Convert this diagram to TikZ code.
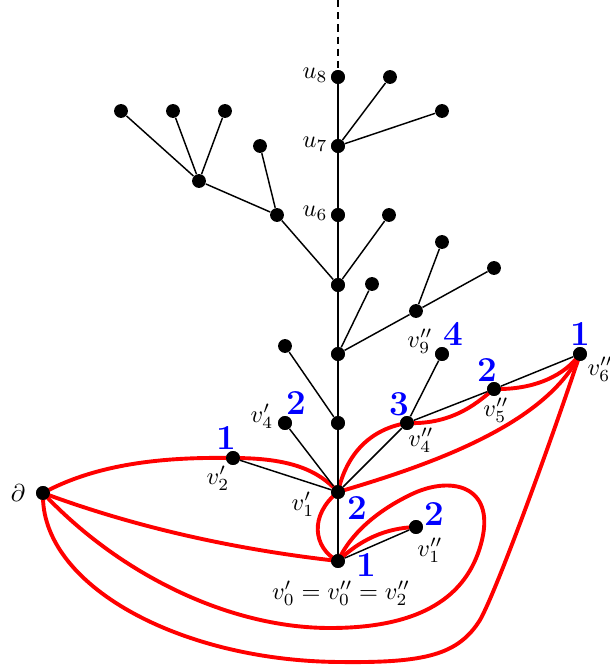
\documentclass[tikz,border=0pt]{standalone}
\begin{document}
\begin{tikzpicture}[x=0.01443cm,y=-0.01443cm,
  dot/.style={circle,fill=black,inner sep=0pt,minimum size=2mm},
  tedge/.style={black,semithick},
  redge/.style={red,line width=1.6pt},
  lab/.style={inner sep=0pt},
  num/.style={text=blue,font=\Large\bfseries,inner sep=0pt}]
\useasboundingbox (0,0) rectangle (610,671);
% tree vertices
\node[dot] (u8) at (338,77) {};
\node[dot] (a1) at (390,77) {};
\node[dot] (u7) at (338,146) {};
\node[dot] (a2) at (442,111) {};
\node[dot] (u6) at (338,215) {};
\node[dot] (a3) at (389,215) {};
\node[dot] (A) at (338,285) {};
\node[dot] (L1) at (277,215) {};
\node[dot] (L2) at (260,146) {};
\node[dot] (L3) at (199,181) {};
\node[dot] (L4) at (121,111) {};
\node[dot] (L5) at (173,111) {};
\node[dot] (L6) at (225,111) {};
\node[dot] (a4) at (372,284) {};
\node[dot] (B) at (338,354) {};
\node[dot] (b1) at (416,311) {};
\node[dot] (b2) at (442,242) {};
\node[dot] (b3) at (494,268) {};
\node[dot] (C) at (338,423) {};
\node[dot] (c1) at (285,346) {};
\node[dot] (v1p) at (338,492) {};
\node[dot] (v4p) at (285,423) {};
\node[dot] (v2p) at (233,458) {};
\node[dot] (v4pp) at (407,423) {};
\node[dot] (v9pp) at (442,354) {};
\node[dot] (v5pp) at (494,389) {};
\node[dot] (v6pp) at (580,354) {};
\node[dot] (v0) at (338,561) {};
\node[dot] (v1pp) at (416,527) {};
\node[dot] (d) at (43,493) {};
\coordinate (top) at (338,0);
% red curves
\draw[redge] (d.center) .. controls (100,462) and (170,457) .. (v2p.center)
  .. controls (290,458) and (318,470) .. (v1p.center);
\draw[redge] (d.center) .. controls (140,529) and (240,550) .. (v0.center);
\draw[redge] (d.center) .. controls (120,575) and (230,628) .. (330,628)
  .. controls (430,628) and (470,590) .. (482,540)
  .. controls (495,485) and (450,475) .. (410,495)
  .. controls (375,512) and (350,535) .. (v0.center);
\draw[redge] (d.center) .. controls (40,585) and (180,661) .. (340,662)
  .. controls (425,663) and (458,655) .. (480,620)
  .. controls (498,588) and (555,430) .. (v6pp.center);
\draw[redge] (v1p.center) .. controls (309,515) and (313,548) .. (v0.center);
\draw[redge] (v0.center) .. controls (360,540) and (385,528) .. (v1pp.center);
\draw[redge] (v1p.center) .. controls (345,460) and (365,430) .. (v4pp.center);
\draw[redge] (v4pp.center) .. controls (455,425) and (480,400) .. (v5pp.center);
\draw[redge] (v5pp.center) .. controls (535,390) and (565,375) .. (v6pp.center);
\draw[redge] (v1p.center) .. controls (430,465) and (545,425) .. (v6pp.center);
% tree edges
\draw[tedge,dash pattern=on 3pt off 2pt] (top) -- (u8);
\draw[tedge] (u8) -- (u7) -- (u6) -- (A) -- (B) -- (C) -- (v1p) -- (v0);
\draw[tedge] (u7) -- (a1);
\draw[tedge] (u7) -- (a2);
\draw[tedge] (A) -- (a3);
\draw[tedge] (A) -- (L1);
\draw[tedge] (L1) -- (L2);
\draw[tedge] (L1) -- (L3);
\draw[tedge] (L3) -- (L4);
\draw[tedge] (L3) -- (L5);
\draw[tedge] (L3) -- (L6);
\draw[tedge] (B) -- (a4);
\draw[tedge] (B) -- (b1);
\draw[tedge] (b1) -- (b2);
\draw[tedge] (b1) -- (b3);
\draw[tedge] (C) -- (c1);
\draw[tedge] (v1p) -- (v4p);
\draw[tedge] (v1p) -- (v2p);
\draw[tedge] (v1p) -- (v4pp);
\draw[tedge] (v4pp) -- (v9pp);
\draw[tedge] (v4pp) -- (v5pp);
\draw[tedge] (v5pp) -- (v6pp);
\draw[tedge] (v0) -- (v1pp);
% redraw dots on top
\foreach \n in {u8,u7,u6,A,B,C,v1p,v0,v4p,v2p,v4pp,v9pp,v5pp,v6pp,v1pp,d}
  \fill (\n) circle (1mm);
% labels
\node[lab] (lu8) at (315,75) {$u_8$};
\node[lab] (lu7) at (315,144) {$u_7$};
\node[lab] (lu6) at (315,213) {$u_6$};
\node (ld) at (18,493) {$\partial$};
\node[lab] (lv2p) at (218,478) {$v_2'$};
\node[num] (n2p) at (226,438) {1};
\node[lab] (lv1p) at (303,504) {$v_1'$};
\node[num] (n1p) at (357,508) {2};
\node[lab] (lv4p) at (262,416) {$v_4'$};
\node[num] (n4p) at (296,403) {2};
\node[lab] (lv4pp) at (421,440) {$v_4''$};
\node[num] (n4pp) at (399,404) {3};
\node[lab] (lv9pp) at (420,341) {$v_9''$};
\node[num] (n9pp) at (453,334) {4};
\node[lab] (lv5pp) at (496,410) {$v_5''$};
\node[num] (n5pp) at (487,370) {2};
\node[lab,anchor=west] (lv6pp) at (587,369) {$v_6''$};
\node[num] (n6pp) at (580,334) {1};
\node[lab] (lv1pp) at (430,550) {$v_1''$};
\node[num] (n1pp) at (434,514) {2};
\node[lab] (lv0) at (341,593) {$v_0'=v_0''=v_2''$};
\node[num] (n0) at (366,565) {1};
\end{tikzpicture}
\end{document}
